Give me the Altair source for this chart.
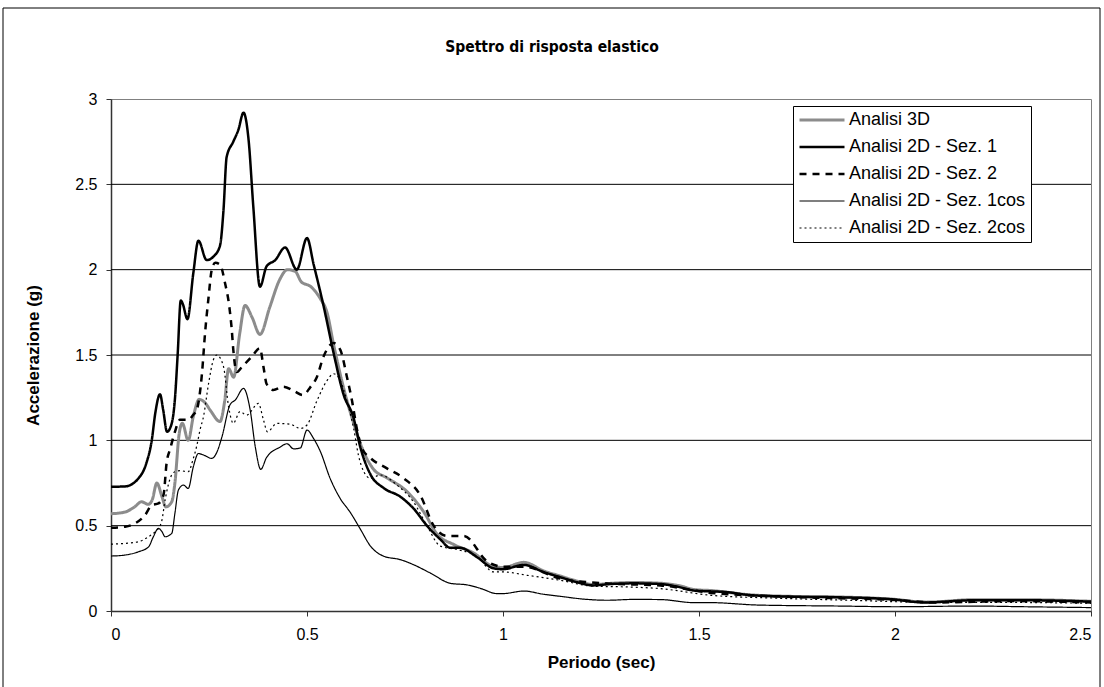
import altair as alt
import pandas as pd

FONT = "Liberation Sans"
TITLE_FONT = "DejaVu Sans Condensed, Liberation Sans"

series_names = ["Analisi 3D", "Analisi 2D - Sez. 1", "Analisi 2D - Sez. 2",
                "Analisi 2D - Sez. 1cos", "Analisi 2D - Sez. 2cos"]

t_3d = [0, 0.036, 0.06, 0.078, 0.095, 0.105, 0.117, 0.13, 0.14, 0.155, 0.163, 0.174, 0.182, 0.197, 0.21,
        0.225, 0.24, 0.255, 0.278, 0.29, 0.3, 0.313, 0.328, 0.342, 0.36, 0.38, 0.405, 0.43, 0.45, 0.47,
        0.485, 0.51, 0.534, 0.551, 0.568, 0.593, 0.619, 0.645, 0.67, 0.704, 0.755, 0.798, 0.832, 0.874,
        0.925, 0.976, 1.0, 1.053, 1.104, 1.146, 1.19, 1.23, 1.28, 1.33, 1.40, 1.45, 1.49, 1.53, 1.63,
        1.73, 1.86, 1.99, 2.08, 2.2, 2.33, 2.5]
a_3d = [0.57, 0.58, 0.61, 0.64, 0.625, 0.65, 0.75, 0.67, 0.61, 0.64, 0.75, 1.04, 1.10, 1.0, 1.14,
        1.24, 1.22, 1.17, 1.11, 1.23, 1.42, 1.37, 1.62, 1.79, 1.72, 1.62, 1.78, 1.94, 2.0, 1.99,
        1.93, 1.9, 1.83, 1.75, 1.56, 1.31, 1.1, 0.93, 0.83, 0.78, 0.70, 0.58, 0.45, 0.39,
        0.34, 0.26, 0.255, 0.285, 0.235, 0.205, 0.175, 0.155, 0.163, 0.167, 0.163, 0.148, 0.125, 0.12, 0.095,
        0.086, 0.082, 0.07, 0.052, 0.066, 0.066, 0.057]

t_s1 = [0, 0.036, 0.07, 0.09, 0.104, 0.113, 0.125, 0.133, 0.143, 0.155, 0.163, 0.17, 0.178, 0.183, 0.195,
        0.21, 0.223, 0.244, 0.261, 0.278, 0.287, 0.295, 0.312, 0.325, 0.338, 0.351, 0.363, 0.38, 0.397,
        0.419, 0.444, 0.474, 0.5, 0.517, 0.542, 0.568, 0.593, 0.619, 0.636, 0.662, 0.696, 0.738, 0.772,
        0.806, 0.84, 0.866, 0.891, 0.934, 0.976, 1.0, 1.053, 1.104, 1.146, 1.19, 1.23, 1.274, 1.334,
        1.402, 1.444, 1.487, 1.53, 1.564, 1.632, 1.734, 1.862, 1.99, 2.075, 2.203, 2.33, 2.5]
a_s1 = [0.728, 0.73, 0.777, 0.865, 1.0, 1.16, 1.27, 1.18, 1.05, 1.10, 1.24, 1.5, 1.82, 1.80, 1.71,
        1.98, 2.17, 2.056, 2.076, 2.14, 2.35, 2.66, 2.75, 2.82, 2.92, 2.76, 2.37, 1.90, 2.02,
        2.056, 2.13, 2.0, 2.185, 2.03, 1.79, 1.51, 1.27, 1.13, 0.96, 0.80, 0.72, 0.67, 0.60,
        0.50, 0.42, 0.37, 0.37, 0.315, 0.25, 0.245, 0.27, 0.228, 0.198, 0.168, 0.15, 0.158, 0.162,
        0.158, 0.143, 0.12, 0.115, 0.112, 0.093, 0.084, 0.08, 0.069, 0.05, 0.063, 0.063, 0.055]

t_s2 = [0, 0.036, 0.061, 0.087, 0.104, 0.121, 0.134, 0.142, 0.151, 0.163, 0.176, 0.197, 0.21, 0.219,
        0.232, 0.24, 0.249, 0.257, 0.266, 0.278, 0.291, 0.302, 0.308, 0.312, 0.321, 0.334, 0.359, 0.38,
        0.389, 0.397, 0.414, 0.44, 0.466, 0.489, 0.508, 0.525, 0.542, 0.568, 0.585, 0.602, 0.615, 0.627,
        0.64, 0.662, 0.704, 0.747, 0.789, 0.823, 0.857, 0.9, 0.96, 1.0, 1.053, 1.146, 1.274, 1.402,
        1.53, 1.65, 1.8, 2.0, 2.1, 2.3, 2.5]
a_s2 = [0.488, 0.494, 0.513, 0.562, 0.62, 0.63, 0.68, 0.87, 0.95, 1.05, 1.12, 1.12, 1.15, 1.18,
        1.39, 1.63, 1.84, 2.0, 2.04, 2.03, 1.92, 1.78, 1.65, 1.53, 1.40, 1.43, 1.49, 1.54,
        1.43, 1.33, 1.295, 1.314, 1.29, 1.265, 1.31, 1.37, 1.49, 1.57, 1.53, 1.37, 1.23, 1.07,
        0.955, 0.896, 0.836, 0.777, 0.678, 0.5, 0.44, 0.44, 0.29, 0.26, 0.26, 0.19, 0.16, 0.15,
        0.106, 0.09, 0.078, 0.065, 0.05, 0.058, 0.05]

t_1c = [0, 0.036, 0.07, 0.096, 0.108, 0.121, 0.13, 0.138, 0.155, 0.163, 0.172, 0.185, 0.197, 0.21,
        0.223, 0.236, 0.257, 0.27, 0.283, 0.304, 0.317, 0.338, 0.355, 0.368, 0.382, 0.397, 0.431,
        0.449, 0.466, 0.483, 0.5, 0.517, 0.534, 0.559, 0.585, 0.61, 0.636, 0.662, 0.696, 0.738,
        0.772, 0.815, 0.866, 0.908, 0.942, 0.985, 1.0, 1.053, 1.104, 1.146, 1.214, 1.266, 1.334,
        1.402, 1.487, 1.53, 1.649, 1.86, 2.0, 2.2, 2.33, 2.5]
a_1c = [0.322, 0.328, 0.347, 0.376, 0.435, 0.484, 0.465, 0.435, 0.455, 0.572, 0.709, 0.738, 0.718, 0.845,
        0.923, 0.914, 0.894, 0.93, 1.02, 1.21, 1.236, 1.304, 1.178, 0.963, 0.83, 0.90, 0.96,
        0.98, 0.95, 0.955, 1.06, 1.01, 0.935, 0.777, 0.658, 0.579, 0.48, 0.38, 0.321, 0.301,
        0.271, 0.222, 0.162, 0.153, 0.133, 0.102, 0.102, 0.117, 0.098, 0.086, 0.068, 0.063, 0.068,
        0.067, 0.049, 0.049, 0.035, 0.029, 0.025, 0.029, 0.025, 0.02]

t_2c = [0, 0.036, 0.07, 0.096, 0.113, 0.121, 0.13, 0.138, 0.151, 0.163, 0.176, 0.197, 0.21, 0.219,
        0.227, 0.236, 0.249, 0.261, 0.27, 0.287, 0.3, 0.312, 0.329, 0.346, 0.376, 0.389, 0.399, 0.423,
        0.457, 0.483, 0.5, 0.525, 0.551, 0.568, 0.585, 0.602, 0.619, 0.631, 0.645, 0.662, 0.687, 0.73,
        0.772, 0.806, 0.84, 0.883, 0.934, 0.976, 1.0, 1.062, 1.146, 1.231, 1.317, 1.402, 1.53, 1.7,
        1.9, 2.1, 2.3, 2.5]
a_2c = [0.392, 0.396, 0.406, 0.435, 0.465, 0.484, 0.533, 0.65, 0.777, 0.816, 0.822, 0.816, 0.894, 0.97,
        1.06, 1.14, 1.334, 1.471, 1.5, 1.432, 1.197, 1.1, 1.168, 1.148, 1.216, 1.119, 1.05, 1.099,
        1.095, 1.07, 1.09, 1.23, 1.35, 1.39, 1.35, 1.23, 1.07, 0.915, 0.816, 0.777, 0.797, 0.737,
        0.638, 0.5, 0.38, 0.36, 0.32, 0.229, 0.229, 0.209, 0.18, 0.145, 0.141, 0.131, 0.092, 0.075,
        0.062, 0.05, 0.05, 0.045]

series_t = [t_3d, t_s1, t_s2, t_1c, t_2c]
series_a = [a_3d, a_s1, a_s2, a_1c, a_2c]

x_ticks = [0, 0.5, 1, 1.5, 2, 2.5]
y_ticks = [0, 0.5, 1, 1.5, 2, 2.5, 3]
grid_values = [0.5, 1, 1.5, 2, 2.5]

rows = []
for name, ts, As in zip(series_names, series_t, series_a):
    for i, (t, a) in enumerate(zip(ts, As)):
        rows.append({"serie": name, "T": t, "A": a, "i": i})
df = pd.DataFrame(rows)

one = pd.DataFrame({"k": [0]})

legend_kw = dict(title=None, orient="none", legendX=682, legendY=7)

lines = alt.Chart(df).mark_line(interpolate="monotone", clip=True).encode(
    x=alt.X("T:Q", scale=alt.Scale(domain=[0, 2.5], nice=False, zero=False),
            axis=alt.Axis(values=x_ticks, format=".1~f", title="Periodo (sec)", grid=False,
                          tickSize=5, labelPadding=10, titleY=51, titleBaseline="middle")),
    y=alt.Y("A:Q", scale=alt.Scale(domain=[0, 3], nice=False),
            axis=alt.Axis(values=y_ticks, format=".1~f", title="Accelerazione (g)", grid=False,
                          tickSize=5, labelPadding=9, titleX=-78, titleY=256, titleAngle=-90,
                          titleAlign="center", titleBaseline="middle")),
    color=alt.Color("serie:N", scale=alt.Scale(domain=series_names,
                    range=["#8c8c8c", "#000000", "#000000", "#000000", "#000000"]),
                    legend=alt.Legend(**legend_kw)),
    strokeDash=alt.StrokeDash("serie:N", scale=alt.Scale(domain=series_names,
                    range=[[1, 0], [1, 0], [7, 6], [1, 0], [2, 3]]),
                    legend=alt.Legend(**legend_kw)),
    strokeWidth=alt.StrokeWidth("serie:N", scale=alt.Scale(type="ordinal", domain=series_names,
                    range=[3, 2.5, 2.5, 1.2, 1.2]),
                    legend=alt.Legend(**legend_kw)),
    order="i:Q",
)

grid = alt.Chart(pd.DataFrame({"g": grid_values})).mark_rule(color="black", strokeWidth=1).encode(
    y=alt.Y("g:Q")
)

border = alt.Chart(one).mark_rect(filled=False, stroke="black", strokeWidth=1, clip=False).encode(
    x=alt.value(-108), x2=alt.value(989), y=alt.value(-91), y2=alt.value(700)
)

title = alt.Chart(one).mark_text(text="Spettro di risposta elastico", font=TITLE_FONT, fontSize=15.5,
                                 fontWeight="bold", align="center", baseline="middle",
                                 color="black").encode(
    x=alt.value(441), y=alt.value(-52)
)

chart = alt.layer(border, grid, lines, title).properties(
    width=980, height=512,
    autosize=alt.AutoSizeParams(type="none"),
    padding={"left": 111, "top": 99, "right": 13, "bottom": 76},
    background="white",
).configure_view(
    stroke="#808080", strokeWidth=1
).configure_axis(
    labelFont=FONT, labelFontSize=16, labelColor="black",
    titleFont=FONT, titleFontSize=17, titleFontWeight="bold", titleColor="black",
    domainColor="#333333", tickColor="#333333", domainWidth=1.5
).configure_legend(
    symbolType="stroke", symbolSize=2025, clipHeight=18, rowPadding=9,
    labelFont=FONT, labelFontSize=18, labelColor="black", labelOffset=3, labelLimit=0,
    strokeColor="black", fillColor="white", padding=5, cornerRadius=0
)

chart.save("out.html", embed_options={"renderer": "svg", "actions": False})
